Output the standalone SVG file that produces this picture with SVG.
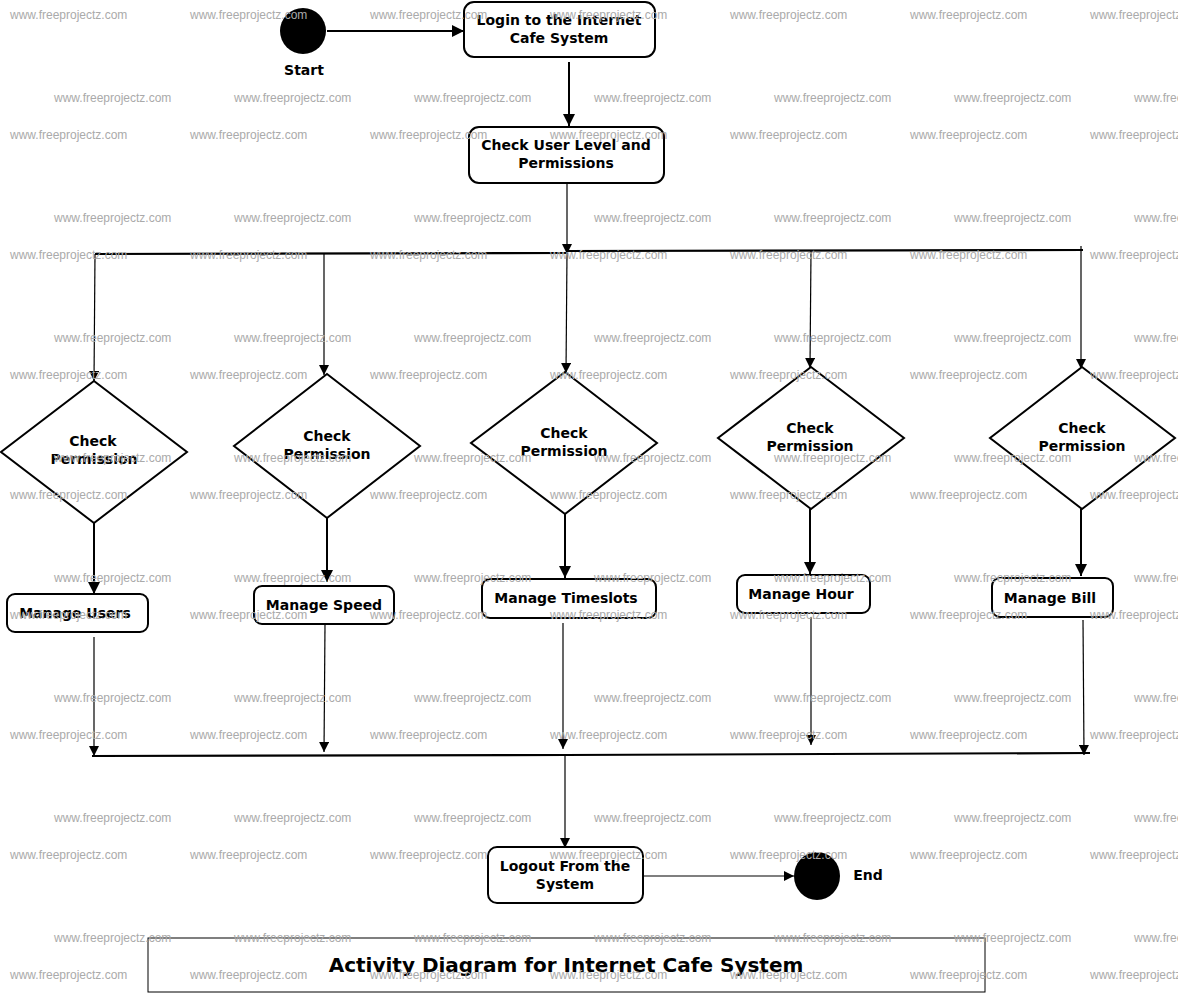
<svg xmlns="http://www.w3.org/2000/svg" width="1178" height="994" viewBox="0 0 1178 994">
<style>
.node{fill:#fff;stroke:#000;stroke-width:2}
.lbl{font-family:"DejaVu Sans","Liberation Sans",sans-serif;font-weight:bold;font-size:14px;fill:#000;text-anchor:middle}
.title{font-family:"DejaVu Sans","Liberation Sans",sans-serif;font-weight:bold;font-size:20px;fill:#000;text-anchor:middle}
.thin{fill:none;stroke:#000;stroke-width:1.2}
.thick{fill:none;stroke:#000;stroke-width:2}
.bar{fill:none;stroke:#000;stroke-width:2.2}
.wm{font-family:"Liberation Sans",Arial,sans-serif;font-size:12px;fill:#aaa}
</style>
<defs>
<marker id="ah" viewBox="0 0 12 12" refX="12" refY="6" markerWidth="12" markerHeight="12" markerUnits="userSpaceOnUse" orient="auto">
<path d="M0,0 L12,6 L0,12 Z" fill="#000"/>
</marker>
<marker id="ahs" viewBox="0 0 10 10" refX="10" refY="5" markerWidth="10" markerHeight="10" markerUnits="userSpaceOnUse" orient="auto">
<path d="M0,0 L10,5 L0,10 Z" fill="#000"/>
</marker>
</defs>
<rect width="1178" height="994" fill="#fff"/>

<g id="connectors">
<line class="thick" x1="327" y1="31" x2="464" y2="31" marker-end="url(#ah)"/>
<line class="thick" x1="569" y1="62" x2="569" y2="126" marker-end="url(#ah)"/>
<line class="thin" x1="567" y1="184" x2="567" y2="254" marker-end="url(#ahs)"/>
<polyline class="bar" points="95,254 567,253"/>
<polyline class="bar" points="567,251 1083,250"/>
<line class="thin" x1="95" y1="254" x2="94" y2="381" marker-end="url(#ahs)"/>
<line class="thin" x1="324" y1="254" x2="324" y2="375" marker-end="url(#ahs)"/>
<line class="thin" x1="567" y1="253" x2="566" y2="373" marker-end="url(#ahs)"/>
<line class="thin" x1="811" y1="251" x2="810" y2="368" marker-end="url(#ahs)"/>
<line class="thin" x1="1081" y1="246" x2="1081" y2="369" marker-end="url(#ahs)"/>
<line class="thick" x1="94" y1="523" x2="94" y2="594" marker-end="url(#ah)"/>
<line class="thick" x1="327" y1="518" x2="327" y2="582" marker-end="url(#ah)"/>
<line class="thick" x1="565" y1="514" x2="565" y2="578" marker-end="url(#ah)"/>
<line class="thick" x1="810" y1="509" x2="810" y2="574" marker-end="url(#ah)"/>
<line class="thick" x1="1081" y1="509" x2="1081" y2="576" marker-end="url(#ah)"/>
<line class="thin" x1="94" y1="637" x2="94" y2="756" marker-end="url(#ahs)"/>
<line class="thin" x1="325" y1="625" x2="324" y2="752" marker-end="url(#ahs)"/>
<line class="thin" x1="563" y1="623" x2="563" y2="749" marker-end="url(#ahs)"/>
<line class="thin" x1="811" y1="617" x2="811" y2="745" marker-end="url(#ahs)"/>
<line class="thin" x1="1083" y1="620" x2="1084" y2="755" marker-end="url(#ahs)"/>
<polyline class="bar" points="92,756 565,755 1090,753"/>
<line class="thin" x1="565" y1="756" x2="565" y2="848" marker-end="url(#ahs)"/>
<line class="thin" x1="643" y1="876" x2="794" y2="876" marker-end="url(#ahs)"/>
</g>

<g id="start">
<circle cx="303" cy="31" r="23" fill="#000"/>
<text class="lbl" x="304" y="75">Start</text>
</g>
<g id="login">
<rect class="node" x="464" y="2" width="191" height="55" rx="10"/>
<text class="lbl" x="559" y="25">Login to the Internet</text>
<text class="lbl" x="559" y="43">Cafe System</text>
</g>
<g id="checkUser">
<rect class="node" x="469" y="127" width="195" height="56" rx="10"/>
<text class="lbl" x="566" y="150">Check User Level and</text>
<text class="lbl" x="566" y="168">Permissions</text>
</g>

<g id="perm1">
<polygon class="node" points="94,381 187,452 94,523 1,452"/>
<text class="lbl" x="93" y="446">Check</text>
<text class="lbl" x="94" y="464">Permission</text>
</g>
<g id="perm2">
<polygon class="node" points="327,374 420,446 327,518 234,446"/>
<text class="lbl" x="327" y="441">Check</text>
<text class="lbl" x="327" y="459">Permission</text>
</g>
<g id="perm3">
<polygon class="node" points="565,372 657,443 565,514 471,443"/>
<text class="lbl" x="564" y="438">Check</text>
<text class="lbl" x="564" y="456">Permission</text>
</g>
<g id="perm4">
<polygon class="node" points="811,367 904,438 811,509 718,438"/>
<text class="lbl" x="810" y="433">Check</text>
<text class="lbl" x="810" y="451">Permission</text>
</g>
<g id="perm5">
<polygon class="node" points="1082,367 1175,438 1082,509 990,438"/>
<text class="lbl" x="1082" y="433">Check</text>
<text class="lbl" x="1082" y="451">Permission</text>
</g>

<g id="manageUsers">
<rect class="node" x="7" y="594" width="141" height="38" rx="8"/>
<text class="lbl" x="75" y="618">Manage Users</text>
</g>
<g id="manageSpeed">
<rect class="node" x="254" y="586" width="140" height="38" rx="8"/>
<text class="lbl" x="324" y="610">Manage Speed</text>
</g>
<g id="manageTimeslots">
<rect class="node" x="482" y="579" width="174" height="39" rx="8"/>
<text class="lbl" x="566" y="603">Manage Timeslots</text>
</g>
<g id="manageHour">
<rect class="node" x="737" y="575" width="133" height="38" rx="8"/>
<text class="lbl" x="801" y="599">Manage Hour</text>
</g>
<g id="manageBill">
<rect class="node" x="992" y="578" width="121" height="39" rx="8"/>
<text class="lbl" x="1050" y="603">Manage Bill</text>
</g>

<g id="logout">
<rect class="node" x="488" y="847" width="155" height="56" rx="9"/>
<text class="lbl" x="565" y="871">Logout From the</text>
<text class="lbl" x="565" y="889">System</text>
</g>
<g id="end">
<ellipse cx="817" cy="876" rx="23" ry="24" fill="#000"/>
<text class="lbl" x="868" y="880">End</text>
</g>

<g id="titleBox">
<rect x="148" y="938" width="837" height="54" fill="#fff" stroke="#000" stroke-width="1"/>
<text class="title" x="566" y="972">Activity Diagram for Internet Cafe System</text>
</g>

<g id="watermarks" class="wm">
<text x="10" y="19">www.freeprojectz.com</text><text x="190" y="19">www.freeprojectz.com</text><text x="370" y="19">www.freeprojectz.com</text><text x="550" y="19">www.freeprojectz.com</text><text x="730" y="19">www.freeprojectz.com</text><text x="910" y="19">www.freeprojectz.com</text><text x="1090" y="19">www.freeprojectz.com</text>
<text x="54" y="102">www.freeprojectz.com</text><text x="234" y="102">www.freeprojectz.com</text><text x="414" y="102">www.freeprojectz.com</text><text x="594" y="102">www.freeprojectz.com</text><text x="774" y="102">www.freeprojectz.com</text><text x="954" y="102">www.freeprojectz.com</text><text x="1134" y="102">www.freeprojectz.com</text>
<text x="10" y="139">www.freeprojectz.com</text><text x="190" y="139">www.freeprojectz.com</text><text x="370" y="139">www.freeprojectz.com</text><text x="550" y="139">www.freeprojectz.com</text><text x="730" y="139">www.freeprojectz.com</text><text x="910" y="139">www.freeprojectz.com</text><text x="1090" y="139">www.freeprojectz.com</text>
<text x="54" y="222">www.freeprojectz.com</text><text x="234" y="222">www.freeprojectz.com</text><text x="414" y="222">www.freeprojectz.com</text><text x="594" y="222">www.freeprojectz.com</text><text x="774" y="222">www.freeprojectz.com</text><text x="954" y="222">www.freeprojectz.com</text><text x="1134" y="222">www.freeprojectz.com</text>
<text x="10" y="259">www.freeprojectz.com</text><text x="190" y="259">www.freeprojectz.com</text><text x="370" y="259">www.freeprojectz.com</text><text x="550" y="259">www.freeprojectz.com</text><text x="730" y="259">www.freeprojectz.com</text><text x="910" y="259">www.freeprojectz.com</text><text x="1090" y="259">www.freeprojectz.com</text>
<text x="54" y="342">www.freeprojectz.com</text><text x="234" y="342">www.freeprojectz.com</text><text x="414" y="342">www.freeprojectz.com</text><text x="594" y="342">www.freeprojectz.com</text><text x="774" y="342">www.freeprojectz.com</text><text x="954" y="342">www.freeprojectz.com</text><text x="1134" y="342">www.freeprojectz.com</text>
<text x="10" y="379">www.freeprojectz.com</text><text x="190" y="379">www.freeprojectz.com</text><text x="370" y="379">www.freeprojectz.com</text><text x="550" y="379">www.freeprojectz.com</text><text x="730" y="379">www.freeprojectz.com</text><text x="910" y="379">www.freeprojectz.com</text><text x="1090" y="379">www.freeprojectz.com</text>
<text x="54" y="462">www.freeprojectz.com</text><text x="234" y="462">www.freeprojectz.com</text><text x="414" y="462">www.freeprojectz.com</text><text x="594" y="462">www.freeprojectz.com</text><text x="774" y="462">www.freeprojectz.com</text><text x="954" y="462">www.freeprojectz.com</text><text x="1134" y="462">www.freeprojectz.com</text>
<text x="10" y="499">www.freeprojectz.com</text><text x="190" y="499">www.freeprojectz.com</text><text x="370" y="499">www.freeprojectz.com</text><text x="550" y="499">www.freeprojectz.com</text><text x="730" y="499">www.freeprojectz.com</text><text x="910" y="499">www.freeprojectz.com</text><text x="1090" y="499">www.freeprojectz.com</text>
<text x="54" y="582">www.freeprojectz.com</text><text x="234" y="582">www.freeprojectz.com</text><text x="414" y="582">www.freeprojectz.com</text><text x="594" y="582">www.freeprojectz.com</text><text x="774" y="582">www.freeprojectz.com</text><text x="954" y="582">www.freeprojectz.com</text><text x="1134" y="582">www.freeprojectz.com</text>
<text x="10" y="619">www.freeprojectz.com</text><text x="190" y="619">www.freeprojectz.com</text><text x="370" y="619">www.freeprojectz.com</text><text x="550" y="619">www.freeprojectz.com</text><text x="730" y="619">www.freeprojectz.com</text><text x="910" y="619">www.freeprojectz.com</text><text x="1090" y="619">www.freeprojectz.com</text>
<text x="54" y="702">www.freeprojectz.com</text><text x="234" y="702">www.freeprojectz.com</text><text x="414" y="702">www.freeprojectz.com</text><text x="594" y="702">www.freeprojectz.com</text><text x="774" y="702">www.freeprojectz.com</text><text x="954" y="702">www.freeprojectz.com</text><text x="1134" y="702">www.freeprojectz.com</text>
<text x="10" y="739">www.freeprojectz.com</text><text x="190" y="739">www.freeprojectz.com</text><text x="370" y="739">www.freeprojectz.com</text><text x="550" y="739">www.freeprojectz.com</text><text x="730" y="739">www.freeprojectz.com</text><text x="910" y="739">www.freeprojectz.com</text><text x="1090" y="739">www.freeprojectz.com</text>
<text x="54" y="822">www.freeprojectz.com</text><text x="234" y="822">www.freeprojectz.com</text><text x="414" y="822">www.freeprojectz.com</text><text x="594" y="822">www.freeprojectz.com</text><text x="774" y="822">www.freeprojectz.com</text><text x="954" y="822">www.freeprojectz.com</text><text x="1134" y="822">www.freeprojectz.com</text>
<text x="10" y="859">www.freeprojectz.com</text><text x="190" y="859">www.freeprojectz.com</text><text x="370" y="859">www.freeprojectz.com</text><text x="550" y="859">www.freeprojectz.com</text><text x="730" y="859">www.freeprojectz.com</text><text x="910" y="859">www.freeprojectz.com</text><text x="1090" y="859">www.freeprojectz.com</text>
<text x="54" y="942">www.freeprojectz.com</text><text x="234" y="942">www.freeprojectz.com</text><text x="414" y="942">www.freeprojectz.com</text><text x="594" y="942">www.freeprojectz.com</text><text x="774" y="942">www.freeprojectz.com</text><text x="954" y="942">www.freeprojectz.com</text><text x="1134" y="942">www.freeprojectz.com</text>
<text x="10" y="979">www.freeprojectz.com</text><text x="190" y="979">www.freeprojectz.com</text><text x="370" y="979">www.freeprojectz.com</text><text x="550" y="979">www.freeprojectz.com</text><text x="730" y="979">www.freeprojectz.com</text><text x="910" y="979">www.freeprojectz.com</text><text x="1090" y="979">www.freeprojectz.com</text>
</g>
</svg>
